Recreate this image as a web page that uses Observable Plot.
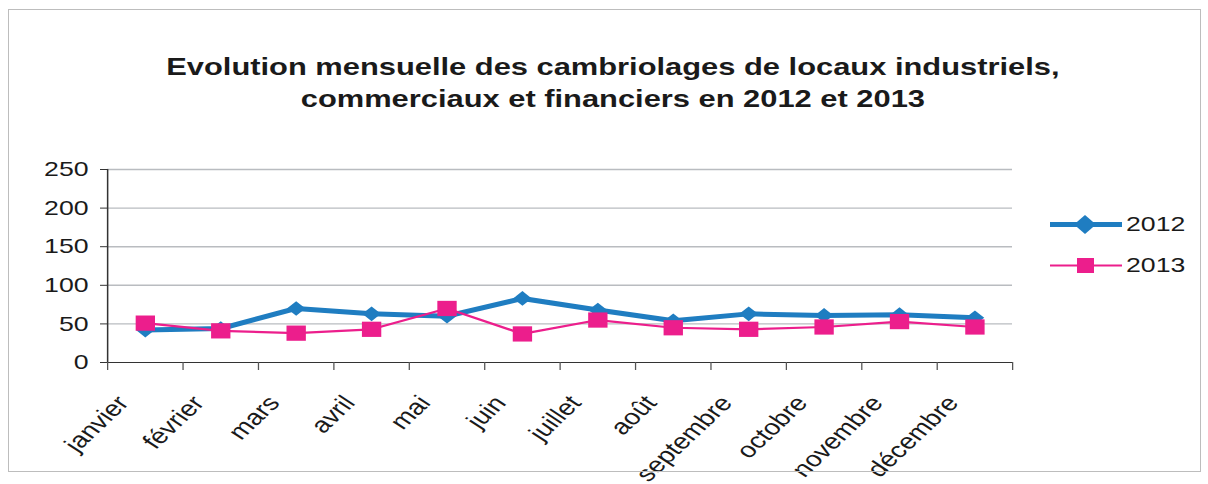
<!DOCTYPE html>
<html><head><meta charset="utf-8">
<script src="https://cdn.jsdelivr.net/npm/d3@7"></script>
<script src="https://cdn.jsdelivr.net/npm/@observablehq/plot@0.6"></script>
<style>
body{margin:0;background:#fff;font-family:"Liberation Sans",Arial,sans-serif;}
#wrap{position:relative;width:1208px;height:484px;overflow:hidden;}
#border{position:absolute;left:8px;top:9px;width:1191px;height:461px;border:1px solid #bdbdbd;pointer-events:none;}
#chart svg{display:block;}
.lg{position:absolute;left:1050px;}
.lg span{position:absolute;left:76px;top:-13px;font-size:21px;line-height:26px;color:#1a1a1a;transform:scaleX(1.27);transform-origin:left center;white-space:nowrap;}
</style></head>
<body><div id="wrap"><div id="border"></div><div id="chart"></div></div>
<script>
const title = ["Evolution mensuelle des cambriolages de locaux industriels,", "commerciaux et financiers en 2012 et 2013"];
const months = ["janvier","février","mars","avril","mai","juin","juillet","août","septembre","octobre","novembre","décembre"];
const values2012 = [42,44,70,63,60,83,68,54,63,61,62,58];
const values2013 = [51,41,38,43,70,37,55,45,43,46,53,46];
const yTicks = [0,50,100,150,200,250];
const series = [
  {name:"2012", values: values2012, color:"#1f7dc1", width:5, symbol:"diamond2", r:6.6},
  {name:"2013", values: values2013, color:"#ec1e8c", width:2.2, symbol:"square", r:8.6}
];
const data = series.flatMap(s => s.values.map((v,i)=>({series:s.name, i:i+0.5, month:months[i], v})));
const labels = months.map((m,i)=>({m, i:i+0.5}));

// whole chart drawn in a narrower space, then stretched horizontally like the source image
const SX = 1.27, W = 1208, H = 484, W0 = W / SX;

const marks = [
  Plot.ruleY(yTicks.filter(d=>d>0), {y:d=>d, stroke:"#b9bcc0", strokeWidth:1.4, strokeOpacity:1}),
  Plot.axisY({ticks:yTicks, tickSize:5.5, tickPadding:9.5, fontSize:21, stroke:"#333", color:"#1a1a1a", label:null}),
  Plot.ruleX([0], {stroke:"#333", strokeWidth:1.2}),
  Plot.ruleY([0], {stroke:"#333", strokeWidth:1.2}),
  Plot.axisX({ticks:d3.range(0,13), tickSize:8, tickFormat:()=>"", stroke:"#555", label:null}),
  Plot.text(labels, {x:"i", text:"m", frameAnchor:"bottom", dy:31, dx:-24, textAnchor:"end", rotate:-50, fontSize:22, fill:"#1a1a1a", lineAnchor:"top"}),
];
for (const s of series) {
  const d = data.filter(r=>r.series===s.name);
  marks.push(Plot.line(d, {x:"i", y:"v", stroke:s.color, strokeWidth:s.width}));
  marks.push(Plot.dot(d, {x:"i", y:"v", symbol:()=>s.symbol, r:s.r, fill:s.color, stroke:"none"}));
}
marks.push(Plot.text([title.join("\n")], {frameAnchor:"top", dx:41.5, dy:-117, fontSize:24.3, fontWeight:"bold", fill:"#1a1a1a", lineHeight:1.32, lineAnchor:"top", text:d=>d}));

const chart = Plot.plot({
  width:W0, height:H,
  marginLeft:107/SX, marginRight:196/SX, marginTop:169, marginBottom:122,
  style:{fontFamily:"Liberation Sans, Arial, sans-serif", background:"transparent", overflow:"visible"},
  x:{type:"linear", domain:[0,12], axis:null},
  y:{domain:[0,250], axis:null},
  symbol:{type:"identity"},
  marks
});
chart.setAttribute("viewBox", `0 0 ${W0} ${H}`);
chart.setAttribute("width", W);
chart.setAttribute("height", H);
chart.setAttribute("preserveAspectRatio", "none");
chart.style.maxWidth = "none";
chart.style.width = W + "px";
chart.style.height = H + "px";
document.getElementById("chart").appendChild(chart);

// legend
const wrap = document.getElementById("wrap");
const legendY = [224, 265];
series.forEach((s, k) => {
  const row = document.createElement("div");
  row.className = "lg";
  row.style.top = legendY[k] + "px";
  const shape = s.symbol==="square"
    ? `<rect x="27" y="5" width="17" height="15" fill="${s.color}"/>`
    : `<path d="M35,3 L46,12.5 L35,22 L24,12.5 Z" fill="${s.color}"/>`;
  row.innerHTML = `<svg width="72" height="25" style="position:absolute;left:0;top:-12.5px"><line x1="0" x2="72" y1="12.5" y2="12.5" stroke="${s.color}" stroke-width="${s.width}"/>${shape}</svg><span>${s.name}</span>`;
  wrap.appendChild(row);
});
</script></body></html>
